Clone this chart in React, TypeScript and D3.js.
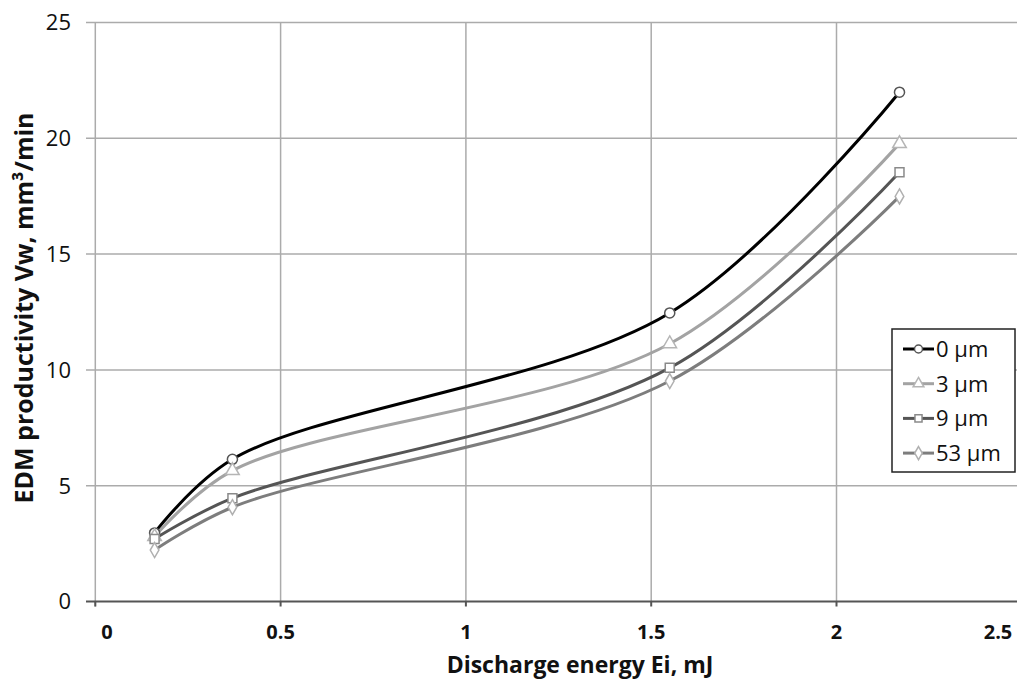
import React, { useRef, useEffect } from 'react';
import * as d3 from 'd3';

// discharge energy Ei, mJ
const energy = [0.16, 0.37, 1.55, 2.17];
const seriesNames = ['0 \u00b5m', '3 \u00b5m', '9 \u00b5m', '53 \u00b5m'];
const vw0 = [2.96, 6.14, 12.46, 21.99];
const vw3 = [2.8, 5.65, 11.13, 19.77];
const vw9 = [2.7, 4.46, 10.09, 18.53];
const vw53 = [2.22, 4.07, 9.52, 17.49];
const xTicks = [0, 0.5, 1, 1.5, 2, 2.5];
const yTicks = [0, 5, 10, 15, 20, 25];

const W = 1017;
const H = 684;

const lineColors = ['#000000', '#a3a3a3', '#555555', '#7d7d7d'];
const markerColors = ['#555555', '#b5b5b5', '#8a8a8a', '#b0b0b0'];
const markerTypes = [d3.symbolCircle, d3.symbolTriangle, d3.symbolSquare, d3.symbolDiamond];

const App = () => {
  const ref = useRef(null);

  useEffect(() => {
    const svg = d3.select(ref.current);
    svg.selectAll('*').remove();

    const x = d3.scaleLinear().domain([0, 2.5]).range([95.3, 1021.8]);
    const y = d3.scaleLinear().domain([0, 25]).range([601.5, 22.5]);

    // gridlines
    const grid = svg.append('g');
    grid.selectAll('line.h')
      .data(yTicks.filter((d) => d > 0))
      .join('line')
      .attr('x1', 86).attr('x2', W)
      .attr('y1', (d) => y(d)).attr('y2', (d) => y(d))
      .attr('stroke', '#ababab').attr('stroke-width', 1.5);
    grid.selectAll('line.v')
      .data(xTicks.filter((d) => d > 0))
      .join('line')
      .attr('x1', (d) => x(d)).attr('x2', (d) => x(d))
      .attr('y1', y(25)).attr('y2', y(0))
      .attr('stroke', '#ababab').attr('stroke-width', 1.5);

    // left axis
    grid.append('line')
      .attr('x1', x(0)).attr('x2', x(0))
      .attr('y1', y(25)).attr('y2', y(0) + 5)
      .attr('stroke', '#ababab').attr('stroke-width', 1.5);

    // bottom axis
    svg.append('line')
      .attr('x1', 86).attr('x2', W)
      .attr('y1', y(0)).attr('y2', y(0))
      .attr('stroke', '#555').attr('stroke-width', 2);
    svg.selectAll('line.xt')
      .data(xTicks)
      .join('line')
      .attr('x1', (d) => x(d)).attr('x2', (d) => x(d))
      .attr('y1', y(0)).attr('y2', y(0) + 5)
      .attr('stroke', '#555').attr('stroke-width', 2);

    // y tick labels
    svg.selectAll('text.yl')
      .data(yTicks)
      .join('text')
      .attr('x', 71)
      .attr('y', (d) => y(d))
      .attr('dy', '0.36em')
      .attr('text-anchor', 'end')
      .attr('font-family', 'Open Sans, sans-serif')
      .attr('font-size', 22)
      .attr('fill', '#111')
      .text((d) => d);

    // x tick labels
    svg.selectAll('text.xl')
      .data(xTicks)
      .join('text')
      .attr('x', (d) => Math.min(Math.max(x(d), 107), 998))
      .attr('y', 632)
      .attr('dy', '0.36em')
      .attr('text-anchor', 'middle')
      .attr('font-family', 'Open Sans, sans-serif')
      .attr('font-weight', 'bold')
      .attr('font-size', 20)
      .attr('fill', '#111')
      .text((d) => d);

    // axis titles
    svg.append('text')
      .attr('x', 580).attr('y', 673)
      .attr('text-anchor', 'middle')
      .attr('font-family', 'Open Sans, sans-serif')
      .attr('font-weight', 'bold')
      .attr('font-size', 23)
      .attr('fill', '#111')
      .text('Discharge energy Ei, mJ');
    svg.append('text')
      .attr('transform', 'translate(24,308) rotate(-90)')
      .attr('dy', '0.36em')
      .attr('text-anchor', 'middle')
      .attr('font-family', 'Open Sans, sans-serif')
      .attr('font-weight', 'bold')
      .attr('font-size', 25)
      .attr('fill', '#111')
      .text('EDM productivity Vw, mm\u00b3/min');

    // series
    const series = [vw0, vw3, vw9, vw53];
    const line = d3.line<number>()
      .x((_, i) => x(energy[i]))
      .y((d) => y(d))
      .curve(d3.curveCatmullRom.alpha(0.5));

    series.forEach((vals, s) => {
      svg.append('path')
        .attr('d', line(vals))
        .attr('fill', 'none')
        .attr('stroke', lineColors[s])
        .attr('stroke-width', 3);
    });
    series.forEach((vals, s) => {
      const sym = d3.symbol().type(markerTypes[s]).size(s === 3 ? 65 : 80);
      svg.selectAll(null)
        .data(vals)
        .join('path')
        .attr('transform', (d, i) => `translate(${x(energy[i])},${y(d)})`)
        .attr('d', sym())
        .attr('fill', '#fff')
        .attr('stroke', markerColors[s])
        .attr('stroke-width', 1.5);
    });

    // legend
    const lg = svg.append('g');
    lg.append('rect')
      .attr('x', 892).attr('y', 329)
      .attr('width', 123).attr('height', 143)
      .attr('fill', '#fff')
      .attr('stroke', '#222').attr('stroke-width', 1.5);
    seriesNames.forEach((name, s) => {
      const cy = 349 + s * 34.7;
      lg.append('line')
        .attr('x1', 903).attr('x2', 934)
        .attr('y1', cy).attr('y2', cy)
        .attr('stroke', lineColors[s]).attr('stroke-width', 3);
      lg.append('path')
        .attr('transform', `translate(918.5,${cy})`)
        .attr('d', d3.symbol().type(markerTypes[s]).size(50)())
        .attr('fill', '#fff')
        .attr('stroke', markerColors[s])
        .attr('stroke-width', 1.5);
      lg.append('text')
        .attr('x', 936).attr('y', cy)
        .attr('dy', '0.36em')
        .attr('font-family', 'Open Sans, sans-serif')
        .attr('font-size', 22)
        .attr('fill', '#111')
        .text(name);
    });
  }, []);

  return (
    <svg
      ref={ref}
      width={W}
      height={H}
      style={{ position: 'absolute', left: 0, top: 0, background: '#fff' }}
    />
  );
};

export default App;
